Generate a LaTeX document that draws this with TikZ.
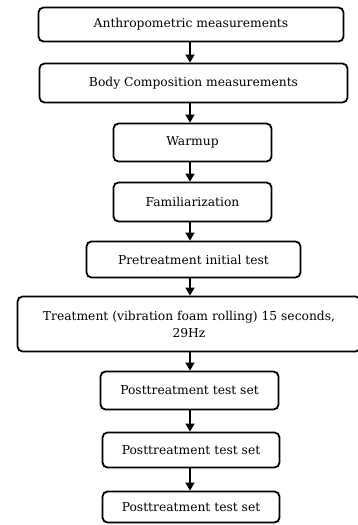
\documentclass[tikz,border=0pt]{standalone}
\usepackage{fontspec}
\setmainfont{DejaVu Serif}
\usetikzlibrary{arrows.meta}
\begin{document}
\begin{tikzpicture}[x=1pt,y=-1pt,
  stepbox/.style={draw, line width=1.8pt, rounded corners=5pt, align=center, inner sep=0pt, font=\fontsize{12.3}{17}\selectfont},
  flow/.style={line width=1.4pt, -{Triangle[length=8pt,width=9pt]}}]
\useasboundingbox (0,0) rectangle (357,525);
\node[stepbox, minimum width=305pt, minimum height=34pt] (a) at (191,24.5) {Anthropometric measurements};
\node[stepbox, minimum width=308pt, minimum height=39pt] (b) at (193.5,83) {Body Composition measurements};
\node[stepbox, minimum width=158pt, minimum height=38pt] (c) at (192.5,142.5) {Warmup};
\node[stepbox, minimum width=158pt, minimum height=39pt] (d) at (192.5,202) {Familiarization};
\node[stepbox, minimum width=214pt, minimum height=36pt] (e) at (193.5,259.5) {Pretreatment initial test};
\node[stepbox, minimum width=343pt, minimum height=55pt] (f) at (189,324) {Treatment (vibration foam rolling) 15 seconds,\\29Hz};
\node[stepbox, minimum width=178pt, minimum height=38pt] (g) at (189.5,390.5) {Posttreatment test set};
\node[stepbox, minimum width=177pt, minimum height=35pt] (h) at (191,450) {Posttreatment test set};
\node[stepbox, minimum width=177pt, minimum height=31pt] (i) at (191,507) {Posttreatment test set};
\coordinate (ax) at (190,0);
\draw[flow] (a.south -| ax) -- (b.north -| ax);
\draw[flow] (b.south -| ax) -- (c.north -| ax);
\draw[flow] (c.south -| ax) -- (d.north -| ax);
\draw[flow] (d.south -| ax) -- (e.north -| ax);
\draw[flow] (e.south -| ax) -- (f.north -| ax);
\draw[flow] (f.south -| ax) -- (g.north -| ax);
\draw[flow] (g.south -| ax) -- (h.north -| ax);
\draw[flow] (h.south -| ax) -- (i.north -| ax);
\end{tikzpicture}
\end{document}
